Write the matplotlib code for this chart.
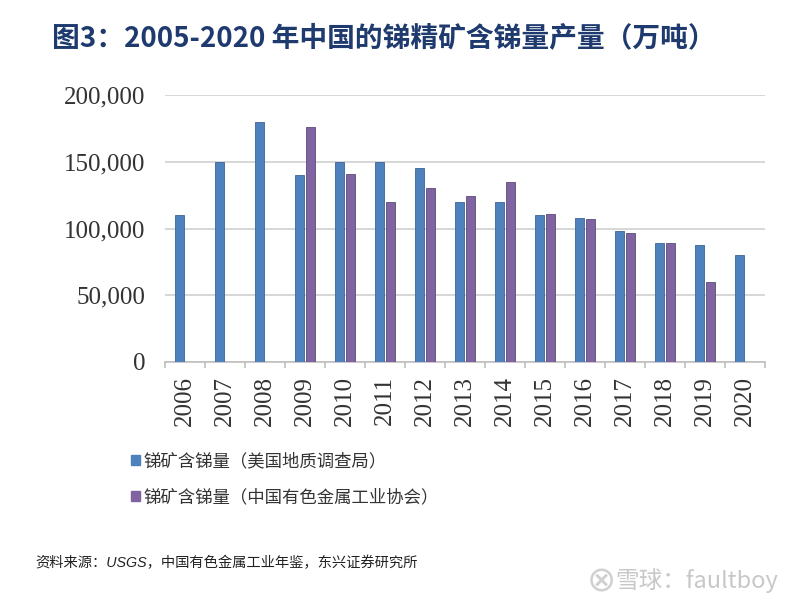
import matplotlib
matplotlib.use("Agg")
import matplotlib.pyplot as plt
import numpy as np
from matplotlib.patches import Patch

plt.rcParams['font.family'] = ['Noto Sans CJK SC', 'DejaVu Sans']

# ---- data ----
years = ['2006', '2007', '2008', '2009', '2010', '2011', '2012', '2013',
         '2014', '2015', '2016', '2017', '2018', '2019', '2020']
usgs = [110000, 150000, 180000, 140000, 150000, 150000, 145000, 120000,
        120000, 110000, 108000, 98000, 89000, 88000, 80000]
cnia = [np.nan, np.nan, np.nan, 176000, 141000, 120000, 130000, 124000,
        135000, 111000, 107000, 97000, 89000, 60000, np.nan]
yticks = [0, 50000, 100000, 150000, 200000]
label_usgs = '锑矿含锑量（美国地质调查局）'
label_cnia = '锑矿含锑量（中国有色金属工业协会）'
title = '图3：2005-2020 年中国的锑精矿含锑量产量（万吨）'
source = '资料来源：USGS，中国有色金属工业年鉴，东兴证券研究所'
watermark = '雪球：faultboy'

blue = '#4F81BD'
purple = '#8064A2'

W, H = 800, 606
fig = plt.figure(figsize=(W / 100, H / 100), dpi=100)
ax = fig.add_axes([165 / W, 1 - 362 / H, 600 / W, 267 / H])

x = np.arange(len(years))
bw = 0.23
ax.bar(x - 0.14, usgs, width=bw, color=blue, edgecolor='#3A6596', linewidth=0.6, zorder=3)
ax.bar(x + 0.13, cnia, width=bw, color=purple, edgecolor='#5E4A7A', linewidth=0.6, zorder=3)

ax.set_xlim(-0.5, len(years) - 0.5)
ax.set_ylim(0, 200000)
ax.set_yticks(yticks)
ax.set_yticklabels([f'{v:,}' for v in yticks], fontfamily='Liberation Serif', fontsize=18, color='#333333')
ax.tick_params(axis='y', length=0, pad=14)
ax.yaxis.grid(True, color='#D4D4D4', linewidth=1.3, zorder=0)

ax.set_xticks(x)
ax.set_xticklabels(years, rotation=90, fontfamily='Liberation Serif', fontsize=18, color='#333333')
ax.tick_params(axis='x', which='major', length=0, pad=10)
ax.set_xticks(np.arange(len(years) + 1) - 0.5, minor=True)
ax.tick_params(axis='x', which='minor', length=4, color='#BFBFBF', width=1.2)

for s in ['top', 'right', 'left']:
    ax.spines[s].set_visible(False)
ax.spines['bottom'].set_color('#BFBFBF')
ax.spines['bottom'].set_linewidth(1.2)
ax.set_axisbelow(True)

fig.text(52 / W, 1 - 38 / H, title, fontsize=20, fontweight='bold', color='#1F3A6E',
         va='center', ha='left')

handles = [Patch(facecolor=blue, edgecolor=blue), Patch(facecolor=purple, edgecolor=purple)]
fig.legend(handles, [label_usgs, label_cnia], loc='upper left',
           bbox_to_anchor=(131 / W, 1 - 452 / H), frameon=False, fontsize=12.5,
           handlelength=0.5, handleheight=0.5, handletextpad=0.2, labelspacing=1.05,
           borderpad=0, borderaxespad=0, labelcolor='#333333')

fig.text(35 / W, 1 - 563 / H, source, fontsize=10.3, style='italic', color='#222222',
         va='center', ha='left', family=['Liberation Sans', 'Noto Sans CJK SC'])

fig.text(616 / W, 1 - 581 / H, '⊗', fontsize=25, color='#D0D0D0',
         va='center', ha='right', family=['DejaVu Sans'])
fig.text(778 / W, 1 - 581 / H, watermark, fontsize=17, color='#C8C8C8',
         va='center', ha='right', family=['Noto Sans CJK SC', 'DejaVu Sans'])

fig.savefig('out.png', dpi=100)
